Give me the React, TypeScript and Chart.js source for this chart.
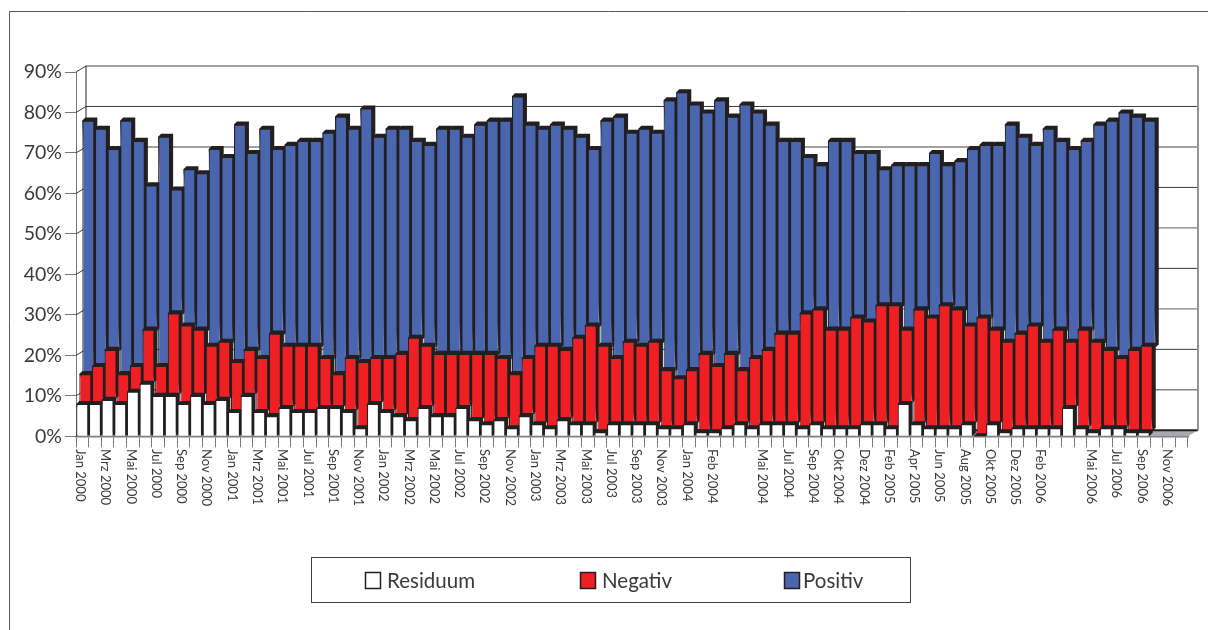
import React, { useEffect, useRef } from "react";
import { Chart, registerables } from "chart.js";

Chart.register(...registerables);

const tickLabels: string[] = [
  "Jan 2000", "", "Mrz 2000", "", "Mai 2000", "", "Jul 2000", "", "Sep 2000", "", "Nov 2000", "",
  "Jan 2001", "", "Mrz 2001", "", "Mai 2001", "", "Jul 2001", "", "Sep 2001", "", "Nov 2001", "",
  "Jan 2002", "", "Mrz 2002", "", "Mai 2002", "", "Jul 2002", "", "Sep 2002", "", "Nov 2002", "",
  "Jan 2003", "", "Mrz 2003", "", "Mai 2003", "", "Jul 2003", "", "Sep 2003", "", "Nov 2003", "",
  "Jan 2004", "", "Feb 2004", "", "", "", "Mai 2004", "", "Jul 2004", "", "Sep 2004", "", "Okt 2004", "",
  "Dez 2004", "", "Feb 2005", "", "Apr 2005", "", "Jun 2005", "", "Aug 2005", "", "Okt 2005", "",
  "Dez 2005", "", "Feb 2006", "", "", "", "Mai 2006", "", "Jul 2006", "", "Sep 2006", "", "Nov 2006", "",
];

const residuum: number[] = [
  8, 8, 9, 8, 11, 13, 10, 10, 8, 10, 8, 9, 6, 10, 6, 5, 7, 6, 6, 7, 7, 6, 2, 8, 6, 5, 4, 7, 5, 5, 7, 4, 3, 4, 2, 5, 3,
  2, 4, 3, 3, 1, 3, 3, 3, 3, 2, 2, 3, 1, 1, 2, 3, 2, 3, 3, 3, 2, 3, 2, 2, 2, 3, 3, 2, 8, 3, 2, 2, 2, 3, 0, 3, 1, 2, 2,
  2, 2, 7, 2, 1, 2, 2, 1, 1,
];
const negativ: number[] = [
  7, 9, 12, 7, 6, 13, 7, 20, 19, 16, 14, 14, 12, 11, 13, 20, 15, 16, 16, 12, 8, 13, 16, 11, 13, 15, 20, 15, 15, 15, 13,
  16, 17, 15, 13, 14, 19, 20, 17, 21, 24, 21, 16, 20, 19, 20, 14, 12, 13, 19, 16, 18, 13, 17, 18, 22, 22, 28, 28, 24,
  24, 27, 25, 29, 30, 18, 28, 27, 30, 29, 24, 29, 23, 22, 23, 25, 21, 24, 16, 24, 22, 19, 17, 20, 21,
];
const positiv: number[] = [
  63, 59, 50, 63, 56, 36, 57, 31, 39, 39, 49, 46, 59, 49, 57, 46, 50, 51, 51, 56, 64, 57, 63, 55, 57, 56, 49, 50, 56,
  56, 54, 57, 58, 59, 69, 58, 54, 55, 55, 50, 44, 56, 60, 52, 54, 52, 67, 71, 66, 60, 66, 59, 66, 61, 56, 48, 48, 39,
  36, 47, 47, 41, 42, 34, 35, 41, 36, 41, 35, 37, 44, 43, 46, 54, 49, 45, 53, 47, 48, 47, 54, 57, 61, 58, 56,
];

const DARK = "#231f20";
const TEXT = "#3a3a3c";
const GREY = "#77787b";
const FONT = "Lato, 'Noto Sans', sans-serif";
const DEPTH = 3;
const WALL_X = 10;
const WALL_Y = -6;

// horizontal and vertical shift of each series layer inside the depth of the chart
const layerShift: [number, number][] = [
  [0, 0],
  [3, -1.5],
  [6, 0],
];

const legendItems: { at: number; text: number }[] = [
  { at: 365, text: 387 },
  { at: 580, text: 602 },
  { at: 784, text: 803 },
];

const framePlugin = {
  id: "frame",
  beforeDraw(chart: any) {
    const { ctx, width, height } = chart;
    ctx.save();
    ctx.strokeStyle = "#58595b";
    ctx.lineWidth = 1;
    ctx.beginPath();
    ctx.moveTo(9.5, height);
    ctx.lineTo(9.5, 11.5);
    ctx.lineTo(width, 11.5);
    ctx.stroke();
    ctx.restore();
  },
};

const wallPlugin = {
  id: "wall",
  beforeDatasetsDraw(chart: any) {
    const { ctx, chartArea, scales } = chart;
    const { left, right, bottom } = chartArea;
    const y = scales.y;
    const top = y.getPixelForValue(90);
    ctx.save();
    // floor
    ctx.fillStyle = "#a7a9ac";
    ctx.beginPath();
    ctx.moveTo(left, bottom);
    ctx.lineTo(right, bottom);
    ctx.lineTo(right + WALL_X, bottom + WALL_Y);
    ctx.lineTo(left + WALL_X, bottom + WALL_Y);
    ctx.closePath();
    ctx.fill();
    // grid on the back wall and its slanted continuation on the side wall
    y.ticks.forEach((t: any, i: number) => {
      const py = y.getPixelForValue(t.value);
      const major = i % 2 === 0;
      ctx.strokeStyle = t.value === 0 ? DARK : major ? "#3a3a3c" : "#808285";
      ctx.lineWidth = t.value === 0 ? 2 : t.value === 90 ? 1.5 : major ? 1 : 1.4;
      ctx.beginPath();
      ctx.moveTo(left + WALL_X, py + WALL_Y);
      ctx.lineTo(right + WALL_X, py + WALL_Y);
      ctx.stroke();
      ctx.strokeStyle = "#3a3a3c";
      ctx.lineWidth = 1;
      ctx.beginPath();
      ctx.moveTo(left, py);
      ctx.lineTo(left + WALL_X, py + WALL_Y);
      ctx.stroke();
    });
    // corner verticals
    ctx.strokeStyle = DARK;
    ctx.lineWidth = 1;
    ctx.beginPath();
    ctx.moveTo(left + WALL_X, top + WALL_Y);
    ctx.lineTo(left + WALL_X, bottom + WALL_Y);
    ctx.stroke();
    ctx.strokeStyle = "#939598";
    ctx.lineWidth = 2;
    ctx.beginPath();
    ctx.moveTo(right + WALL_X, top + WALL_Y);
    ctx.lineTo(right + WALL_X, bottom + WALL_Y);
    ctx.stroke();
    ctx.restore();
  },
};

const depthPlugin = {
  id: "depth",
  beforeDatasetDraw(chart: any, args: any) {
    const { ctx } = chart;
    const [dx, dy] = layerShift[args.index];
    ctx.save();
    ctx.translate(dx, dy);
    ctx.fillStyle = DARK;
    args.meta.data.forEach((bar: any) => {
      const { x, y, base, width } = bar.getProps(["x", "y", "base", "width"], true);
      const l = x - width / 2;
      const r = x + width / 2;
      ctx.beginPath();
      ctx.moveTo(l, y);
      ctx.lineTo(l + DEPTH, y - DEPTH);
      ctx.lineTo(r + DEPTH, y - DEPTH);
      ctx.lineTo(r + DEPTH, base - DEPTH);
      ctx.lineTo(r, base);
      ctx.closePath();
      ctx.fill();
    });
  },
  afterDatasetDraw(chart: any) {
    chart.ctx.restore();
  },
};

const labelPlugin = {
  id: "verticalLabels",
  afterDraw(chart: any) {
    const { ctx, scales } = chart;
    const xs = scales.x;
    ctx.save();
    ctx.fillStyle = TEXT;
    ctx.font = `13px ${FONT}`;
    ctx.textAlign = "left";
    ctx.textBaseline = "middle";
    xs.ticks.forEach((t: any, i: number) => {
      const text = xs.getLabelForValue(t.value);
      if (!text) return;
      ctx.save();
      ctx.translate(xs.getPixelForTick(i) - 2, 449);
      ctx.rotate(Math.PI / 2);
      ctx.fillText(text, 0, 0);
      ctx.restore();
    });
    ctx.restore();
  },
};

const legendPlugin = {
  id: "boxLegend",
  afterDraw(chart: any) {
    const { ctx } = chart;
    ctx.save();
    ctx.fillStyle = "#ffffff";
    ctx.strokeStyle = "#414042";
    ctx.lineWidth = 1;
    ctx.fillRect(311.5, 557.5, 599, 45);
    ctx.strokeRect(311.5, 557.5, 599, 45);
    ctx.font = `20.5px ${FONT}`;
    ctx.textAlign = "left";
    ctx.textBaseline = "middle";
    chart.data.datasets.forEach((ds: any, i: number) => {
      const item = legendItems[i];
      ctx.fillStyle = ds.backgroundColor;
      ctx.strokeStyle = DARK;
      ctx.lineWidth = 1.5;
      ctx.fillRect(item.at + 0.5, 572.5, 15, 16);
      ctx.strokeRect(item.at + 0.5, 572.5, 15, 16);
      ctx.fillStyle = TEXT;
      ctx.fillText(ds.label, item.text, 581);
    });
    ctx.restore();
  },
};

export default function App() {
  const ref = useRef<HTMLCanvasElement | null>(null);

  useEffect(() => {
    if (!ref.current) return;
    const common = {
      borderColor: DARK,
      borderWidth: 1.1,
      barPercentage: 0.95,
      categoryPercentage: 1,
      clip: false,
    };
    const chart = new Chart(ref.current, {
      type: "bar",
      data: {
        labels: tickLabels,
        datasets: [
          { label: "Residuum", data: residuum, backgroundColor: "#ffffff", ...common },
          { label: "Negativ", data: negativ, backgroundColor: "#ee2024", ...common },
          { label: "Positiv", data: positiv, backgroundColor: "#4a66ae", ...common },
        ],
      },
      options: {
        animation: false,
        responsive: false,
        layout: { padding: { top: 72, right: 20, left: 0, bottom: 0 } },
        plugins: { legend: { display: false }, tooltip: { enabled: false } },
        scales: {
          x: {
            stacked: true,
            afterFit: (s: any) => {
              s.height = 193.7;
            },
            border: { display: true, color: GREY, width: 1.5 },
            grid: { drawOnChartArea: false, drawTicks: true, tickLength: 11, color: GREY, lineWidth: 1 },
            ticks: { display: false, autoSkip: false },
          },
          y: {
            stacked: true,
            min: 0,
            max: 90,
            afterFit: (s: any) => {
              s.width = 76;
            },
            border: { display: true, color: GREY, width: 1 },
            grid: { drawOnChartArea: false, drawTicks: true, tickLength: 11, color: GREY, lineWidth: 1 },
            ticks: {
              stepSize: 10,
              padding: 3,
              color: TEXT,
              font: { family: FONT, size: 19.5 },
              callback: (v: any) => `${v}%`,
            },
          },
        },
      },
      plugins: [framePlugin, wallPlugin, depthPlugin, labelPlugin, legendPlugin],
    } as any);
    return () => chart.destroy();
  }, []);

  return (
    <div style={{ position: "fixed", left: 0, top: 0, width: 1208, height: 630, background: "#fff" }}>
      <canvas ref={ref} width={1208} height={630} style={{ display: "block" }} />
    </div>
  );
}
